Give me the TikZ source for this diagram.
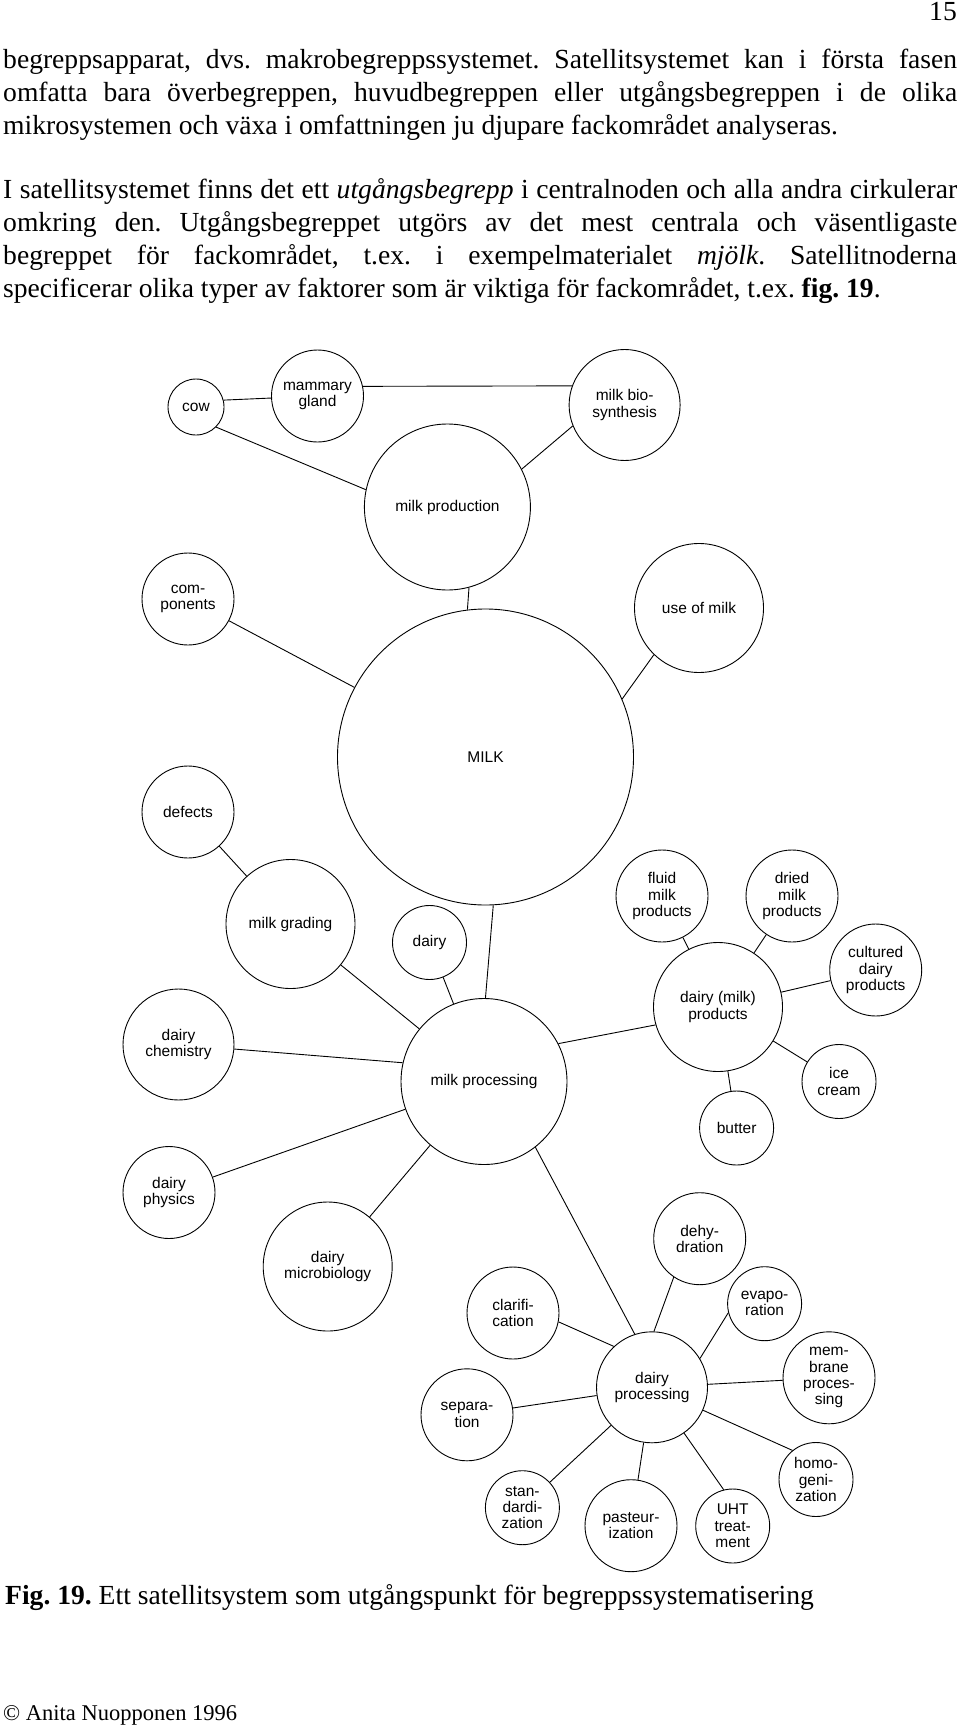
\documentclass[tikz,border=0pt]{standalone}
\usepackage{fontspec}
\setmainfont{Liberation Serif}
\newfontfamily\satfont{Liberation Sans}
\newcommand{\bodysize}{\fontsize{27.6}{32.7}\selectfont}
\newcommand{\satsize}{\satfont\fontsize{15.5}{16.3}\selectfont}
\newlength{\linew}\setlength{\linew}{954pt}
\frenchspacing

\begin{document}
\begin{tikzpicture}[x=1pt,y=-1pt,
  sat/.style={circle,draw,line width=0.9pt,inner sep=0pt,align=center,font=\satsize},
  satxs/.style={sat,minimum size=56pt},
  sats/.style={sat,minimum size=74pt},
  satm/.style={sat,minimum size=92pt},
  satl/.style={sat,minimum size=111pt},
  satxl/.style={sat,minimum size=129pt},
  satxxl/.style={sat,minimum size=166pt},
  hub/.style={sat,minimum size=296pt},
  link/.style={line width=0.9pt},
  bodyline/.style={anchor=base west,inner sep=0pt,font=\bodysize}]
\useasboundingbox (0,0) rectangle (960,1728);
\fill[white] (0,0) rectangle (960,1728);
\node[bodyline,anchor=base east] (pageno) at (957,20.7) {15};
\node[bodyline] (p1a) at (3,68.8) {\makebox[\linew][s]{begreppsapparat, dvs. makrobegreppssystemet. Satellitsystemet kan i första fasen}};
\node[bodyline] (p1b) at (3,101.5) {\makebox[\linew][s]{omfatta bara överbegreppen, huvudbegreppen eller utgångsbegreppen i de olika}};
\node[bodyline] (p1c) at (3,134.2) {mikrosystemen och växa i omfattningen ju djupare fackområdet analyseras.};
\node[bodyline] (p2a) at (3,199) {\makebox[\linew][s]{I satellitsystemet finns det ett \textit{utgångsbegrepp} i centralnoden och alla andra cirkulerar}};
\node[bodyline] (p2b) at (3,231.7) {\makebox[\linew][s]{omkring den. Utgångsbegreppet utgörs av det mest centrala och väsentligaste}};
\node[bodyline] (p2c) at (3,264.4) {\makebox[\linew][s]{begreppet för fackområdet, t.ex. i exempelmaterialet \textit{mjölk}. Satellitnoderna}};
\node[bodyline] (p2d) at (3,297.1) {specificerar olika typer av faktorer som är viktiga för fackområdet, t.ex. \textbf{fig. 19}.};

\node[satxs] (cow) at (196,407) {cow};
\node[satm] (mammary) at (317.5,396) {mammary\\gland};
\node[satl] (biosynth) at (624.6,405) {milk bio-\\synthesis};
\node[satxxl] (production) at (447.4,507) {milk production};
\node[satm] (components) at (188,599) {com-\\ponents};
\node[satxl] (use) at (699,608) {use of milk};
\node[hub] (milk) at (485.5,757) {MILK};
\node[satm] (defects) at (188,812) {defects};
\node[satxl] (grading) at (290.5,924) {milk grading};
\node[sats] (dairy) at (429.5,942.5) {dairy};
\node[satxxl] (processing) at (484,1081.5) {milk processing};
\node[satl] (chemistry) at (178.5,1044.5) {dairy\\chemistry};
\node[satm] (physics) at (169,1192.5) {dairy\\physics};
\node[satm] (fluid) at (662,896) {fluid\\milk\\products};
\node[satm] (dried) at (792,896) {dried\\milk\\products};
\node[satm] (cultured) at (875.7,970) {cultured\\dairy\\products};
\node[satxl] (products) at (718,1007) {dairy (milk)\\products};
\node[sats] (icecream) at (839,1081.5) {ice\\cream};
\node[sats] (butter) at (736.6,1128) {butter};
\node[satxl] (microbio) at (327.7,1266.5) {dairy\\microbiology};
\node[satm] (dehydration) at (699.7,1238.7) {dehy-\\dration};
\node[sats] (evaporation) at (764.6,1303.7) {evapo-\\ration};
\node[satm] (clarification) at (513,1313) {clarifi-\\cation};
\node[satl] (dairyproc) at (652,1387.3) {dairy\\processing};
\node[satm] (membrane) at (829,1377.8) {mem-\\brane\\proces-\\sing};
\node[satm] (separation) at (467,1414.8) {separa-\\tion};
\node[sats] (homogen) at (816,1479.5) {homo-\\geni-\\zation};
\node[sats] (standard) at (522.4,1507.7) {stan-\\dardi-\\zation};
\node[satm] (pasteur) at (631,1525.7) {pasteur-\\ization};
\node[sats] (uht) at (732.7,1526) {UHT\\treat-\\ment};

\draw[link] (cow.14) -- (mammary);
\draw[link] (mammary.12) -- (biosynth.160);
\draw[link] (cow.-45) -- (production.168);
\draw[link] (biosynth.202) -- (production.27);
\draw[link] (production.-75) -- (milk.97);
\draw[link] (components) -- (milk);
\draw[link] (use.226) -- (milk.23);
\draw[link] (defects) -- (grading);
\draw[link] (milk.-87) -- (processing.89);
\draw[link] (grading) -- (processing);
\draw[link] (dairy) -- (processing);
\draw[link] (chemistry) -- (processing.167);
\draw[link] (processing) -- (physics);
\draw[link] (processing.27) -- (products.196);
\draw[link] (fluid) -- (products);
\draw[link] (dried) -- (products);
\draw[link] (cultured) -- (products);
\draw[link] (products) -- (icecream);
\draw[link] (products) -- (butter);
\draw[link] (processing) -- (microbio);
\draw[link] (processing.-52) -- (dairyproc.108);
\draw[link] (clarification.-11) -- (dairyproc.133);
\draw[link] (dehydration.236) -- (dairyproc.88);
\draw[link] (evaporation.194) -- (dairyproc.31);
\draw[link] (membrane) -- (dairyproc);
\draw[link] (separation) -- (dairyproc);
\draw[link] (homogen.129) -- (dairyproc);
\draw[link] (standard) -- (dairyproc);
\draw[link] (pasteur) -- (dairyproc);
\draw[link] (uht.104) -- (dairyproc);

\node[bodyline] (caption) at (5,1604) {\textbf{Fig. 19.} Ett satellitsystem som utgångspunkt för begreppssystematisering};
\node[bodyline,font=\fontsize{22.5}{27}\selectfont] (copyright) at (3,1720) {© Anita Nuopponen 1996};
\end{tikzpicture}
\end{document}
